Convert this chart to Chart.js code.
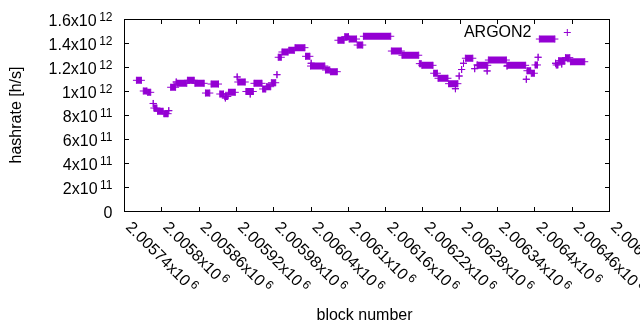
<!DOCTYPE html>
<html>
<head>
<meta charset="utf-8">
<script src="https://cdn.jsdelivr.net/npm/chart.js@4/dist/chart.umd.min.js"></script>
<style>
  html, body { margin: 0; padding: 0; background: #fff; }
  canvas { display: block; }
</style>
</head>
<body>
<canvas id="chart" width="640" height="330"></canvas>
<script>
// runs of consecutive blocks with the same hashrate: first block, last block, rate in 10^12 h/s
const runFrom = [2005760, 2005771, 2005778, 2005787, 2005788, 2005794, 2005804, 2005812, 2005815, 2005824,
  2005825, 2005842, 2005854, 2005871, 2005880, 2005894, 2005902, 2005903, 2005908, 2005922,
  2005923, 2005936, 2005943, 2005949, 2005963, 2005969, 2005977, 2005986, 2005988, 2005994,
  2006005, 2006015, 2006032, 2006040, 2006041, 2006064, 2006072, 2006084, 2006095, 2006102,
  2006115, 2006125, 2006170, 2006187, 2006215, 2006219, 2006238, 2006245, 2006262, 2006273,
  2006279, 2006283, 2006286, 2006289, 2006304, 2006308, 2006309, 2006324, 2006326, 2006356,
  2006357, 2006387, 2006388, 2006395, 2006401, 2006406, 2006408, 2006434, 2006435, 2006439,
  2006444, 2006450, 2006458];
const runTo = [2005768, 2005777, 2005783, 2005787, 2005793, 2005803, 2005811, 2005812, 2005823, 2005824,
  2005841, 2005853, 2005869, 2005878, 2005892, 2005900, 2005907, 2005903, 2005919, 2005922,
  2005935, 2005948, 2005943, 2005962, 2005968, 2005976, 2005984, 2005986, 2005993, 2006004,
  2006014, 2006031, 2006039, 2006063, 2006041, 2006071, 2006083, 2006094, 2006101, 2006114,
  2006124, 2006169, 2006186, 2006214, 2006218, 2006237, 2006244, 2006261, 2006277, 2006273,
  2006279, 2006283, 2006286, 2006301, 2006304, 2006308, 2006325, 2006324, 2006355, 2006356,
  2006386, 2006387, 2006394, 2006400, 2006405, 2006406, 2006433, 2006434, 2006438, 2006449,
  2006444, 2006457, 2006481];
const runRate = [1.089, 1.000, 0.989, 0.896, 0.858, 0.831, 0.811, 0.836, 1.031, 1.075,
  1.064, 1.089, 1.064, 0.983, 1.058, 0.975, 0.954, 0.942, 0.989, 1.117,
  1.075, 0.996, 0.975, 1.064, 1.017, 1.036, 1.069, 1.136, 1.281, 1.325,
  1.339, 1.361, 1.289, 1.208, 1.231, 1.175, 1.161, 1.423, 1.453, 1.433,
  1.383, 1.456, 1.333, 1.298, 1.228, 1.214, 1.148, 1.106, 1.061, 1.019,
  1.125, 1.179, 1.231, 1.273, 1.186, 1.217, 1.214, 1.167, 1.258, 1.208,
  1.214, 1.098, 1.169, 1.148, 1.217, 1.281, 1.433, 1.231, 1.217, 1.253,
  1.225, 1.278, 1.244];

const xTicks = [2005740, 2005800, 2005860, 2005920, 2005980, 2006040, 2006100,
  2006160, 2006220, 2006280, 2006340, 2006400, 2006460, 2006520];
const xTickLabels = ['2.00574x10', '2.0058x10', '2.00586x10', '2.00592x10', '2.00598x10', '2.00604x10',
  '2.0061x10', '2.00616x10', '2.00622x10', '2.00628x10', '2.00634x10', '2.0064x10', '2.00646x10', '2.00652x10'];
const xTickExp = '6';
const yTicks = [0, 2e11, 4e11, 6e11, 8e11, 1e12, 1.2e12, 1.4e12, 1.6e12];
const yTickLabels = ['0', '2x10', '4x10', '6x10', '8x10', '1x10', '1.2x10', '1.4x10', '1.6x10'];
const yTickExps = ['', '11', '11', '11', '11', '12', '12', '12', '12'];

const seriesName = 'ARGON2';
const xTitle = 'block number';
const yTitle = 'hashrate [h/s]';

const purple = '#9400d3';
const ff = '"Liberation Sans", Arial, sans-serif';

// each run -> segment from first to last block, then a gap
const points = [];
runFrom.forEach((b, i) => {
  const v = runRate[i] * 1e12;
  points.push({ x: b, y: v }, { x: runTo[i], y: v }, { x: runTo[i], y: null });
});

function cross(ctx, x, y, r) {
  ctx.beginPath();
  ctx.moveTo(x - r, y); ctx.lineTo(x + r, y);
  ctx.moveTo(x, y - r); ctx.lineTo(x, y + r);
  ctx.stroke();
}

// gnuplot style frame, inward tics, labels with exponents, titles and key
const gnuplotFrame = {
  id: 'gnuplotFrame',
  afterDraw(chart) {
    const { ctx, chartArea: a } = chart;
    const xs = chart.scales.x, ys = chart.scales.y;
    ctx.save();
    ctx.strokeStyle = '#000';
    ctx.lineWidth = 1;
    ctx.strokeRect(a.left + 0.5, a.top + 0.5, a.right - a.left, a.bottom - a.top);

    ctx.beginPath();
    yTicks.forEach(v => {
      const py = Math.round(ys.getPixelForValue(v)) + 0.5;
      ctx.moveTo(a.left, py); ctx.lineTo(a.left + 5, py);
      ctx.moveTo(a.right + 1, py); ctx.lineTo(a.right - 4, py);
    });
    xTicks.forEach(v => {
      const px = Math.round(xs.getPixelForValue(v)) + 0.5;
      ctx.moveTo(px, a.bottom + 1); ctx.lineTo(px, a.bottom - 4);
      ctx.moveTo(px, a.top); ctx.lineTo(px, a.top + 5);
    });
    ctx.stroke();

    ctx.fillStyle = '#000';
    ctx.textBaseline = 'alphabetic';

    // y tick labels
    yTicks.forEach((v, i) => {
      const ty = ys.getPixelForValue(v);
      let right = a.left - 11.5;
      ctx.textAlign = 'right';
      if (yTickExps[i]) {
        ctx.font = '12px ' + ff;
        ctx.fillText(yTickExps[i], right, ty + 1.7);
        right -= ctx.measureText(yTickExps[i]).width + 2.5;
      }
      ctx.font = '16px ' + ff;
      ctx.fillText(yTickLabels[i], right, ty + 7);
    });

    // x tick labels, rotated by -45 like gnuplot
    xTicks.forEach((v, i) => {
      const tx = xs.getPixelForValue(v);
      ctx.save();
      ctx.translate(tx + 1, a.bottom + 17);
      ctx.rotate(Math.PI / 4);
      ctx.textAlign = 'left';
      ctx.font = '16px ' + ff;
      ctx.fillText(xTickLabels[i], 0, 0);
      const w = ctx.measureText(xTickLabels[i]).width;
      ctx.font = '12px ' + ff;
      ctx.fillText(xTickExp, w + 2.5, -5.3);
      ctx.restore();
    });

    // axis titles
    ctx.font = '16px ' + ff;
    ctx.textAlign = 'center';
    ctx.fillText(xTitle, (a.left + a.right) / 2 - 2, 320);
    ctx.save();
    ctx.translate(20.5, (a.top + a.bottom) / 2);
    ctx.rotate(-Math.PI / 2);
    ctx.fillText(yTitle, 0, 0);
    ctx.restore();

    // key
    ctx.textAlign = 'right';
    ctx.fillText(seriesName, a.right - 77.5, a.top + 18.3);
    ctx.strokeStyle = purple;
    cross(ctx, a.right - 41.7, a.top + 13.5, 3.5);
    ctx.restore();
  }
};

new Chart(document.getElementById('chart'), {
  type: 'scatter',
  data: {
    datasets: [{
      label: seriesName,
      data: points,
      showLine: true,
      spanGaps: false,
      borderColor: purple,
      borderWidth: 7,
      borderCapStyle: 'butt',
      pointStyle: 'cross',
      pointRadius: 3.5,
      pointHoverRadius: 3.5,
      pointBorderWidth: 1,
      pointBorderColor: purple,
      pointBackgroundColor: purple
    }]
  },
  options: {
    responsive: false,
    animation: false,
    devicePixelRatio: 1,
    events: [],
    layout: { padding: { left: 124, right: 31, top: 19, bottom: 119 } },
    plugins: { legend: { display: false }, tooltip: { enabled: false } },
    scales: {
      x: { type: 'linear', display: false, min: 2005740, max: 2006520 },
      y: { type: 'linear', display: false, min: 0, max: 1.6e12 }
    }
  },
  plugins: [gnuplotFrame]
});
</script>
</body>
</html>
